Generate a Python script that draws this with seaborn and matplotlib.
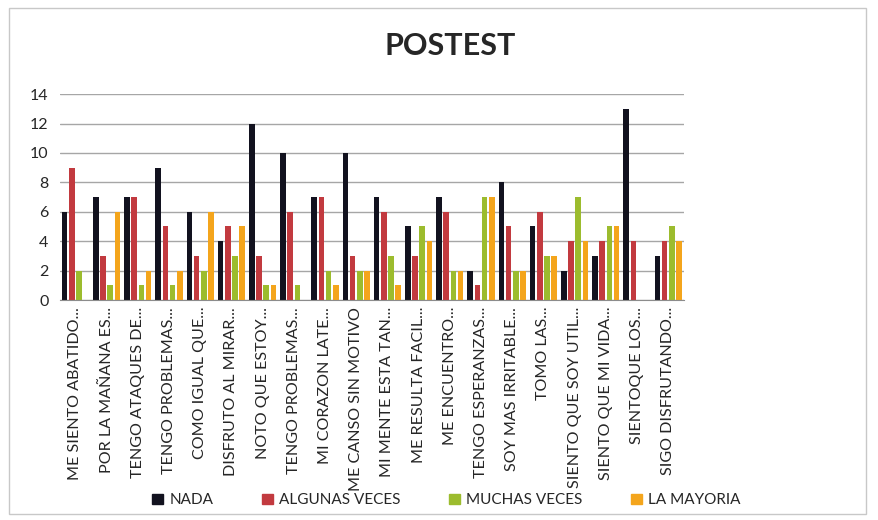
import matplotlib
matplotlib.use("Agg")
import matplotlib.pyplot as plt
import seaborn as sns
import pandas as pd
from matplotlib.patches import Rectangle

categories = [
    "ME SIENTO ABATIDO...", "POR LA MAÑANA ES...", "TENGO ATAQUES DE...",
    "TENGO PROBLEMAS...", "COMO IGUAL QUE...", "DISFRUTO AL MIRAR...",
    "NOTO QUE ESTOY...", "TENGO PROBLEMAS... ", "MI CORAZON LATE...",
    "ME CANSO SIN MOTIVO", "MI MENTE ESTA TAN...", "ME RESULTA FACIL...",
    "ME ENCUENTRO...", "TENGO ESPERANZAS...", "SOY MAS IRRITABLE...",
    "TOMO LAS...", "SIENTO QUE SOY UTIL...", "SIENTO QUE MI VIDA...",
    "SIENTOQUE LOS...", "SIGO DISFRUTANDO...",
]
nada       = [6, 7, 7, 9, 6, 4, 12, 10, 7, 10, 7, 5, 7, 2, 8, 5, 2, 3, 13, 3]
algunas    = [9, 3, 7, 5, 3, 5, 3, 6, 7, 3, 6, 3, 6, 1, 5, 6, 4, 4, 4, 4]
muchas     = [2, 1, 1, 1, 2, 3, 1, 1, 2, 2, 3, 5, 2, 7, 2, 3, 7, 5, 0, 5]
mayoria    = [0, 6, 2, 2, 6, 5, 1, 0, 1, 2, 1, 4, 2, 7, 2, 3, 4, 5, 0, 4]
series_names = ["NADA", "ALGUNAS VECES", "MUCHAS VECES", "LA MAYORIA"]
yticks = [0, 2, 4, 6, 8, 10, 12, 14]

colors = ["#12121f", "#c23a3f", "#9cbc2e", "#f4a51c"]

rows = []
for name, vals in zip(series_names, [nada, algunas, muchas, mayoria]):
    for c, v in zip(categories, vals):
        rows.append({"cat": c, "serie": name, "val": v})
df = pd.DataFrame(rows)

sns.set_style("white")
plt.rcParams["font.family"] = ["Lato", "DejaVu Sans"]

fig = plt.figure(figsize=(8.79, 5.2), dpi=100)
ax = fig.add_axes([0.068, 0.423, 0.71, 0.396])

sns.barplot(data=df, x="cat", y="val", hue="serie", palette=colors,
            order=categories, hue_order=series_names, width=0.92, gap=0.22,
            linewidth=0, saturation=1, ax=ax, legend=False)

ax.set_ylim(0, 14)
ax.set_yticks(yticks)
ax.set_yticklabels([str(t) for t in yticks], fontsize=11.5)
ax.set_xlim(-0.5, len(categories) - 0.5)
ax.yaxis.grid(True, color="#a6a6a6", linewidth=1)
ax.set_axisbelow(True)
for s in ["top", "right", "left"]:
    ax.spines[s].set_visible(False)
ax.spines["bottom"].set_color("#8c8c8c")
ax.set_xlabel("")
ax.set_ylabel("")
ax.tick_params(axis="y", length=0, pad=8)
ax.tick_params(axis="x", length=0, pad=5)
ax.set_xticks(range(len(categories)))
ax.set_xticklabels([c.strip() for c in categories], rotation=90, fontsize=11.6,
                   ha="center", va="top")

fig.text(0.512, 0.912, "POSTEST", ha="center", va="center",
         fontsize=22, fontweight="bold")

handles = [Rectangle((0, 0), 1, 1, color=c) for c in colors]
fig.legend(handles, series_names, loc="center", bbox_to_anchor=(0.508, 0.038),
           ncol=4, frameon=False, fontsize=11, handlelength=0.7,
           handleheight=0.7, columnspacing=3.2, handletextpad=0.4)

fig.patches.append(Rectangle((0.01, 0.012), 0.975, 0.972, transform=fig.transFigure,
                             fill=False, edgecolor="#c8c8c8", linewidth=1))

fig.savefig("out.png", dpi=100, facecolor="white")
